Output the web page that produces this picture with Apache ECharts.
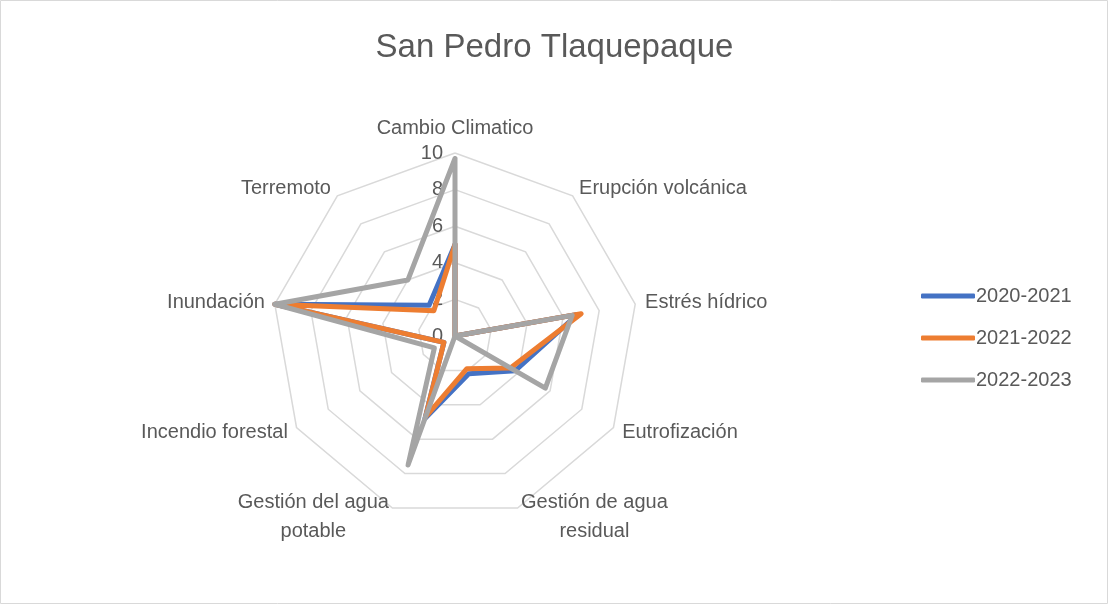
<!DOCTYPE html>
<html>
<head>
<meta charset="utf-8">
<script src="https://cdn.jsdelivr.net/npm/echarts@6/dist/echarts.min.js"></script>
<style>
  html, body { margin: 0; padding: 0; background: #fff; }
  #chart { width: 1109px; height: 605px; }
</style>
</head>
<body>
<div id="chart"></div>
<script>
// categories in clockwise order starting at the top
const categories = ['Cambio Climatico', 'Erupción volcánica', 'Estrés hídrico', 'Eutrofización',
  'Gestión de agua\nresidual', 'Gestión del agua\npotable', 'Incendio forestal', 'Inundación', 'Terremoto'];
const seriesNames = ['2020-2021', '2021-2022', '2022-2023'];
const values2020 = [5, 0, 6.8, 3.8, 2.2, 4.8, 0.7, 10, 2.2];
const values2021 = [5, 0, 7, 3.5, 1.9, 4.7, 0.7, 10, 1.8];
const values2022 = [9.7, 0, 6.5, 5.7, 0, 7.5, 1.3, 10, 4];
const tickValues = [0, 2, 4, 6, 8, 10];

const colors = ['#4472C4', '#ED7D31', '#A5A5A5'];
const textColor = '#595959';
const font = 'Liberation Sans';

// echarts places radar indicators counter-clockwise, so flip order after the first one
function ccw(arr) {
  return [arr[0]].concat(arr.slice(1).reverse());
}

const chart = echarts.init(document.getElementById('chart'));

const allValues = [values2020, values2021, values2022];
const seriesData = allValues.map(function (vals, i) {
  return {
    name: seriesNames[i],
    value: ccw(vals),
    lineStyle: { color: colors[i], width: 5, join: 'round', cap: 'round' },
    itemStyle: { color: colors[i] }
  };
});

chart.setOption({
  animation: false,
  color: colors,
  textStyle: { fontFamily: font },
  title: {
    text: 'San Pedro Tlaquepaque',
    left: 'center',
    top: 26,
    textStyle: { fontSize: 33, fontWeight: 'normal', color: textColor, fontFamily: font }
  },
  legend: {
    orient: 'vertical',
    left: 916,
    top: 281,
    itemGap: 22,
    itemWidth: 54,
    itemHeight: 5,
    data: seriesNames,
    lineStyle: { cap: 'round' },
    textStyle: { fontSize: 20, color: textColor, fontFamily: font, padding: [0, 0, 0, -4] }
  },
  graphic: [{
    type: 'rect',
    shape: { x: 0.5, y: 0.5, width: 1107, height: 603 },
    style: { fill: 'none', stroke: '#d9d9d9', lineWidth: 1 },
    silent: true
  }],
  radar: {
    center: [455, 336],
    radius: 183,
    startAngle: 90,
    shape: 'polygon',
    splitNumber: 5,
    indicator: ccw(categories).map(function (c) { return { name: c, min: 0, max: 10 }; }),
    axisName: {
      color: textColor,
      fontSize: 20,
      fontFamily: font,
      formatter: function (name) {
        return name.split('\n').map(function (s) { return '{c|' + s + '}'; }).join('\n');
      },
      rich: {
        c: { align: 'center', fontSize: 20, color: textColor, fontFamily: font, lineHeight: 29 }
      }
    },
    nameGap: 10,
    axisLine: { show: false },
    axisTick: { show: false },
    axisLabel: { show: false },
    splitLine: { lineStyle: { color: '#d9d9d9', width: 1.5 } },
    splitArea: { show: false }
  },
  // invisible grid whose y axis carries the 0..10 tick labels along the top spoke
  grid: { left: 455, top: 153, width: 1, height: 183 },
  xAxis: { type: 'value', show: false },
  yAxis: {
    type: 'value',
    min: tickValues[0],
    max: tickValues[tickValues.length - 1],
    interval: 2,
    axisLine: { show: false },
    axisTick: { show: false },
    splitLine: { show: false },
    axisLabel: { margin: 12, fontSize: 20, color: textColor, fontFamily: font }
  },
  series: [{
    type: 'radar',
    symbol: 'none',
    data: seriesData
  }]
});
</script>
</body>
</html>
